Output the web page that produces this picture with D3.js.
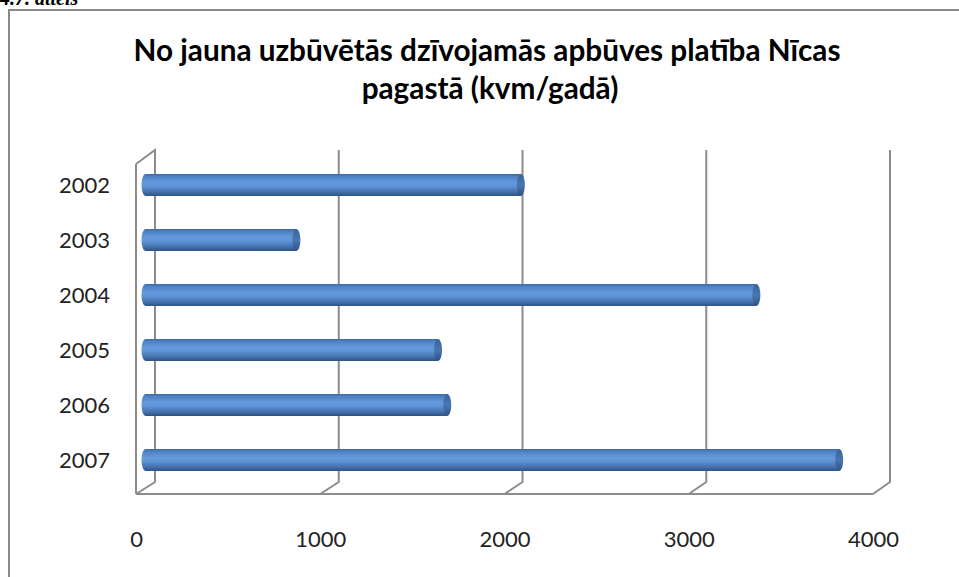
<!DOCTYPE html>
<html>
<head>
<meta charset="utf-8">
<script src="https://cdn.jsdelivr.net/npm/d3@7"></script>
<style>
  html, body { margin: 0; padding: 0; background: #fff; overflow: hidden; }
  svg { display: block; }
</style>
</head>
<body>
<div class="chart"></div>
<script>
// Data
const years = ["2002", "2003", "2004", "2005", "2006", "2007"];
const areas = [2040, 820, 3320, 1590, 1640, 3770];
const xTicks = [0, 1000, 2000, 3000, 4000];
const titleLines = ["No jauna uzbūvētās dzīvojamās apbūves platība Nīcas", "pagastā (kvm/gadā)"];

const width = 959, height = 577;

const svg = d3.select(".chart").append("svg")
  .attr("width", width)
  .attr("height", height);

// bar gradient (cylinder look)
const defs = svg.append("defs");
const grad = defs.append("linearGradient")
  .attr("id", "cyl").attr("x1", 0).attr("y1", 0).attr("x2", 0).attr("y2", 1);
[[0, "#3e6aa3"], [0.12, "#4f82c4"], [0.38, "#6499dd"], [0.55, "#5f93d6"], [0.8, "#4673b0"], [1, "#2e5283"]]
  .forEach(([o, c]) => grad.append("stop").attr("offset", o).attr("stop-color", c));
const capGrad = defs.append("linearGradient")
  .attr("id", "cap").attr("x1", 0).attr("y1", 0).attr("x2", 0).attr("y2", 1);
[[0, "#3a6398"], [0.5, "#4a77b2"], [1, "#2f5283"]]
  .forEach(([o, c]) => capGrad.append("stop").attr("offset", o).attr("stop-color", c));

// caption above the frame, mostly cut off like in the source
svg.append("text")
  .attr("x", 0).attr("y", 5)
  .attr("font-family", "Liberation Serif")
  .attr("font-weight", "bold").attr("font-style", "italic")
  .attr("font-size", 20).attr("fill", "#000")
  .text("4.7. attēls");

// chart frame (right and bottom edges run off the page)
svg.append("rect")
  .attr("x", 9).attr("y", 10)
  .attr("width", 1000).attr("height", 600)
  .attr("fill", "none").attr("stroke", "#8a8a8a").attr("stroke-width", 2);

// title
const title = svg.append("g").attr("font-family", "Lato, 'Open Sans', sans-serif")
  .attr("font-weight", "bold").attr("fill", "#000").attr("text-anchor", "middle");
const t1 = title.append("text").attr("x", 487).attr("y", 61).attr("font-size", 23).text(titleLines[0]);
const fit = 707 / t1.node().getComputedTextLength();
t1.attr("font-size", 23 * fit);
title.append("text").attr("x", 490).attr("y", 99).attr("font-size", 23 * fit).text(titleLines[1]);

// 3D geometry: back wall, front edge, bar plane in between
const depthY = 12;
const wallTop = 150, backFloor = 482;
const xBack = d3.scaleLinear().domain([0, 4000]).range([155, 890]);
const xFront = d3.scaleLinear().domain([0, 4000]).range([136, 873]);
const xBar = d3.scaleLinear().domain([0, 4000]).range([145.5, 881.5]);
const y = d3.scaleBand().domain(years).range([157.5, 487.5]);

const grid = svg.append("g").attr("stroke", "#8c8c8c").attr("stroke-width", 2).attr("fill", "none");

// left wall
grid.append("path").attr("d",
  `M${xFront(0)},${wallTop + 14}L${xBack(0)},${wallTop}L${xBack(0)},${backFloor}`);
grid.append("line")
  .attr("x1", xFront(0)).attr("x2", xFront(0))
  .attr("y1", wallTop + 14).attr("y2", backFloor + depthY);

// gridlines on back wall and floor
xTicks.forEach(v => {
  grid.append("path").attr("d",
    `M${xBack(v)},${wallTop}L${xBack(v)},${backFloor}L${xFront(v)},${backFloor + depthY}`);
});
// floor front edge
grid.append("line")
  .attr("x1", xFront(0)).attr("x2", xFront(4000))
  .attr("y1", backFloor + depthY).attr("y2", backFloor + depthY);

// cylinders
const barH = 22, rx = 4;
const bars = svg.append("g").selectAll("g")
  .data(years.map((yr, i) => ({ yr, v: areas[i] })))
  .join("g")
  .attr("transform", d => `translate(0,${y(d.yr) + y.bandwidth() / 2 - barH / 2})`);

bars.append("path")
  .attr("fill", "url(#cyl)")
  .attr("d", d => {
    const x0 = xBar(0), x1 = xBar(d.v);
    return `M${x0},0L${x1},0L${x1},${barH}L${x0},${barH}` +
      `A${rx},${barH / 2} 0 0 1 ${x0},0Z`;
  });
bars.append("ellipse")
  .attr("cx", d => xBar(d.v)).attr("cy", barH / 2)
  .attr("rx", rx).attr("ry", barH / 2)
  .attr("fill", "url(#cap)");

// axes
const xAxis = svg.append("g")
  .attr("transform", `translate(0,547)`)
  .call(d3.axisBottom(xFront).tickValues(xTicks).tickSize(0).tickPadding(0).tickFormat(d3.format("d")));
xAxis.select(".domain").remove();
xAxis.selectAll("text")
  .attr("font-family", "Lato, 'Open Sans', sans-serif")
  .attr("font-size", 22).attr("fill", "#222").attr("dy", 0);

const yAxis = svg.append("g")
  .attr("transform", `translate(110,0)`)
  .call(d3.axisLeft(y).tickSize(0).tickPadding(0));
yAxis.select(".domain").remove();
yAxis.selectAll("text")
  .attr("font-family", "Lato, 'Open Sans', sans-serif")
  .attr("font-size", 22).attr("fill", "#222").attr("dy", "0.36em");
</script>
</body>
</html>
